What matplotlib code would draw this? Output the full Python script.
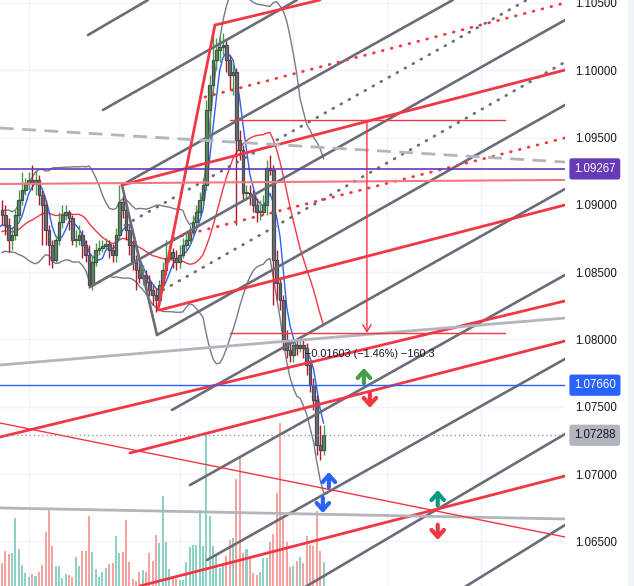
import numpy as np
import pandas as pd
import matplotlib
matplotlib.use("Agg")
import matplotlib.pyplot as plt
from matplotlib.patches import Rectangle

plt.rcParams['font.family'] = ['Liberation Sans', 'DejaVu Sans']

# precios previos (fuera de pantalla) para las medias y bandas
warmup_close = [1.0872, 1.0880, 1.0890, 1.0884, 1.0876, 1.0869, 1.0874, 1.0885, 1.0893, 1.0887,
                1.0878, 1.0870, 1.0866, 1.0873, 1.0881, 1.0889, 1.0884, 1.0877, 1.0883]

first_open = 1.08962
close = [1.08925, 1.08850, 1.08739, 1.08776, 1.08925, 1.09036, 1.09110, 1.09162, 1.09185, 1.09162,
         1.09185, 1.09073, 1.08999, 1.08813, 1.08702, 1.08590, 1.08739, 1.08873, 1.08925, 1.08947,
         1.08902, 1.08739, 1.08739, 1.08776, 1.08702, 1.08627, 1.08404, 1.08575, 1.08664, 1.08679,
         1.08694, 1.08709, 1.08664, 1.08627, 1.08776, 1.09021, 1.08962, 1.08813, 1.08702, 1.08575,
         1.08516, 1.08457, 1.08479, 1.08427, 1.08367, 1.08330, 1.08293, 1.08404, 1.08516, 1.08605,
         1.08650, 1.08605, 1.08575, 1.08627, 1.08702, 1.08739, 1.08798, 1.08873, 1.08947, 1.09036,
         1.09147, 1.09705, 1.09890, 1.10076, 1.10150, 1.10173, 1.10188, 1.10076, 1.09965, 1.09987,
         1.09482, 1.09408, 1.09088, 1.09088, 1.09073, 1.08999, 1.08947, 1.08947, 1.08999, 1.09274,
         1.09259, 1.08590, 1.08419, 1.08293, 1.07996, 1.07922, 1.07884, 1.07959, 1.07937, 1.07959,
         1.07937, 1.07810, 1.07661, 1.07550, 1.07216, 1.07178, 1.07288]
high = [1.09036, 1.08999, 1.08902, 1.08828, 1.08962, 1.09110, 1.09244, 1.09199, 1.09244, 1.09296,
        1.09259, 1.09222, 1.09110, 1.09036, 1.08850, 1.08739, 1.08776, 1.08947, 1.08999, 1.08999,
        1.08962, 1.08925, 1.08813, 1.08850, 1.08813, 1.08739, 1.08702, 1.08627, 1.08717, 1.08739,
        1.08739, 1.08754, 1.08739, 1.08709, 1.08828, 1.09147, 1.09073, 1.08999, 1.08850, 1.08739,
        1.08627, 1.08575, 1.08553, 1.08516, 1.08479, 1.08404, 1.08382, 1.08442, 1.08575, 1.08739,
        1.08702, 1.08679, 1.08664, 1.08702, 1.08754, 1.08798, 1.08850, 1.08925, 1.08999, 1.09095,
        1.09199, 1.09779, 1.09965, 1.10299, 1.10240, 1.10255, 1.10277, 1.10225, 1.10113, 1.10061,
        1.10017, 1.09556, 1.09445, 1.09147, 1.09147, 1.09110, 1.09051, 1.09036, 1.09073, 1.09333,
        1.09370, 1.09296, 1.08664, 1.08457, 1.08330, 1.08070, 1.07981, 1.07996, 1.07996, 1.08011,
        1.07996, 1.07974, 1.07847, 1.07714, 1.07587, 1.07364, 1.07364]
low = [1.08850, 1.08776, 1.08650, 1.08664, 1.08739, 1.08873, 1.08999, 1.09073, 1.09110, 1.09110,
       1.09073, 1.08999, 1.08702, 1.08702, 1.08553, 1.08531, 1.08575, 1.08702, 1.08828, 1.08887,
       1.08813, 1.08702, 1.08687, 1.08702, 1.08605, 1.08575, 1.08382, 1.08367, 1.08546, 1.08627,
       1.08650, 1.08664, 1.08605, 1.08575, 1.08575, 1.08739, 1.08902, 1.08739, 1.08627, 1.08516,
       1.08367, 1.08419, 1.08404, 1.08367, 1.08323, 1.08256, 1.08204, 1.08256, 1.08367, 1.08479,
       1.08575, 1.08531, 1.08516, 1.08531, 1.08605, 1.08664, 1.08702, 1.08769, 1.08843, 1.08917,
       1.08999, 1.09110, 1.09482, 1.09816, 1.10002, 1.10061, 1.10113, 1.09987, 1.09853, 1.09816,
       1.08850, 1.09333, 1.09036, 1.09036, 1.08999, 1.08947, 1.08873, 1.08887, 1.08925, 1.08925,
       1.09222, 1.08256, 1.08293, 1.08219, 1.07922, 1.07862, 1.07832, 1.07832, 1.07884, 1.07907,
       1.07862, 1.07736, 1.07609, 1.07476, 1.07141, 1.07104, 1.07141]
volume = [23, 35, 32, 33, 68, 37, 21, 13, 9, 12, 10, 14, 21, 54, 77, 40, 20, 20, 8, 12,
          11, 9, 29, 20, 35, 35, 70, 34, 17, 9, 14, 18, 22, 23, 50, 33, 34, 66, 24, 7,
          5, 14, 16, 14, 33, 25, 51, 43, 90, 44, 17, 9, 7, 6, 6, 24, 39, 41, 41, 76,
          40, 153, 70, 40, 30, 18, 23, 30, 46, 48, 107, 129, 33, 37, 30, 13, 11, 14, 28, 28,
          44, 52, 93, 163, 67, 44, 19, 20, 25, 29, 23, 50, 41, 40, 75, 35, 24]

price_ticks = [1.065, 1.070, 1.075, 1.080, 1.085, 1.090, 1.095, 1.100, 1.105]
grid_bars = [8, 53, 87, 115, 143]

# dibujos: (barra0, precio0, barra1, precio1)
gray_lines = [(25.67, 1.10262, 43.58, 1.10522), (30.15, 1.09705, 88.06, 1.10522),
              (35.82, 1.09147, 134.6, 1.10522), (26.27, 1.08390, 168.1, 1.10373),
              (46.27, 1.08033, 168.1, 1.09742), (50.75, 1.07476, 168.1, 1.09118),
              (56.12, 1.06918, 168.1, 1.08479), (61.19, 1.06361, 168.1, 1.07855),
              (88.96, 1.06138, 168.1, 1.07297), (136.7, 1.06138, 168.1, 1.06621),
              (35.82, 1.09147, 46.27, 1.08033)]
gray_dotted = [(36.72, 1.08850, 156.7, 1.10522), (48.06, 1.08367, 168.1, 1.10061)]
red_lines = [(46.57, 1.08219, 63.58, 1.10336), (63.58, 1.10336, 94.93, 1.10522),
             (35.82, 1.09147, 168.1, 1.10002), (47.16, 1.08219, 168.1, 1.08999),
             (-0.6, 1.07275, 168.1, 1.08286), (38.21, 1.07156, 168.1, 1.07988),
             (41.19, 1.06168, 168.1, 1.06985)]
red_dotted = [(60.60, 1.09801, 168.1, 1.10500), (51.04, 1.08754, 168.1, 1.09497)]
light_lines = [(-0.6, 1.07810, 168.1, 1.08159), (-0.6, 1.06748, 168.1, 1.06666)]
dashed_line = (-0.6, 1.09571, 168.1, 1.09318)
thin_red_line = (-0.6, 1.07379, 168.1, 1.06532)
pink_line = (-0.6, 1.09155, 168.1, 1.09185)
measure = (68.06, 150.15, 108.96, 1.09630, 1.08048)   # x0, x1, xv, precio arriba, precio abajo
measure_text = "\u22120.01603 (\u22121.46%) \u2212160.3"
# flechas: (barra, precio punta, dirección, color)
arrows = [(108.06, 1.07788, 1, '#43a047'), (109.85, 1.07491, -1, '#f23645'),
          (97.6, 1.07015, 1, '#2962ff'), (95.8, 1.06710, -1, '#2962ff'),
          (130.1, 1.06881, 1, '#089981'), (130.1, 1.06510, -1, '#f23645')]
price_labels = [(1.09267, '#673ab7', 'white'), (1.07660, '#2962ff', 'white'),
                (1.07288, '#b2b5be', '#131722')]


def main():
    n = len(close)
    x = np.arange(n)
    opens = np.array([first_open] + close[:-1])
    c = np.array(close)
    up = c >= opens

    full = pd.Series(warmup_close + close)
    fx = np.arange(-len(warmup_close), n)
    sma = full.rolling(20).mean()
    std = full.rolling(20).std(ddof=0)
    fast = full.rolling(5).mean()

    fig = plt.figure(figsize=(6.34, 5.86), dpi=100)
    fig.patches.append(Rectangle((628 / 634, 0), 6 / 634, 1, transform=fig.transFigure,
                                 facecolor='#f0f3fa', edgecolor='none'))
    ax = fig.add_axes([0, 0, 565 / 634, 1])
    ax.set_xlim(-0.6, 168.1)
    ax.set_ylim(1.06168, 1.10522)

    # rejilla
    for t in price_ticks:
        ax.axhline(t, color='#f0f3fa', lw=1, zorder=0)
    for g in grid_bars:
        ax.axvline(g, color='#f0f3fa', lw=1, zorder=0)

    # volumen
    vol_top = max(volume) * 3.6
    vcol = np.where(up, '#8fd1c7', '#f5a3a1')
    ax.bar(x, np.array(volume) / vol_top, width=0.6, bottom=0, color=vcol,
           transform=ax.get_xaxis_transform(), zorder=1)

    # indicadores
    ax.plot(fx, sma + 2 * std, color='#787b86', lw=1, zorder=2)
    ax.plot(fx, sma - 2 * std, color='#787b86', lw=1, zorder=2)
    ax.plot(fx, sma, color='#f23645', lw=1, zorder=2)
    ax.plot(fx, fast, color='#2962ff', lw=1, zorder=2)

    # velas
    wick = np.where(up, '#43a047', '#b2182b')
    ax.vlines(x, low, high, colors=wick, lw=1, zorder=3)
    body_lo = np.minimum(opens, c)
    body_h = np.maximum(np.abs(c - opens), 0.00006)
    face = np.where(up, '#4f9a52', '#6d6f76')
    ax.bar(x, body_h, width=0.8, bottom=body_lo, color=face, edgecolor='#4a4c52',
           linewidth=0.9, zorder=3)

    # dibujos
    for b0, p0, b1, p1 in gray_lines:
        ax.plot([b0, b1], [p0, p1], color='#6a6d78', lw=1.9, solid_capstyle='round', zorder=4)
    for b0, p0, b1, p1 in gray_dotted:
        ax.plot([b0, b1], [p0, p1], color='#6a6d78', lw=2, ls=(0, (0.3, 3.0)),
                dash_capstyle='round', zorder=4)
    for b0, p0, b1, p1 in red_lines:
        ax.plot([b0, b1], [p0, p1], color='#f23645', lw=2, solid_capstyle='round', zorder=4)
    for b0, p0, b1, p1 in red_dotted:
        ax.plot([b0, b1], [p0, p1], color='#f23645', lw=2, ls=(0, (0.3, 3.0)),
                dash_capstyle='round', zorder=4)
    for b0, p0, b1, p1 in light_lines:
        ax.plot([b0, b1], [p0, p1], color='#b2b5be', lw=2, zorder=4)
    b0, p0, b1, p1 = dashed_line
    ax.plot([b0, b1], [p0, p1], color='#b2b5be', lw=2, ls=(0, (5, 3)), zorder=4)
    b0, p0, b1, p1 = thin_red_line
    ax.plot([b0, b1], [p0, p1], color='#f23645', lw=1, zorder=4)
    b0, p0, b1, p1 = pink_line
    ax.plot([b0, b1], [p0, p1], color='#f4777f', lw=1.5, zorder=4)

    mx0, mx1, mxv, mtop, mbot = measure
    ax.plot([mx0, mx1], [mtop, mtop], color='#f23645', lw=1, zorder=4)
    ax.plot([mx0, mx1], [mbot, mbot], color='#f23645', lw=1, zorder=4)
    ax.annotate('', xy=(mxv, mbot), xytext=(mxv, mtop),
                arrowprops=dict(arrowstyle='->,head_length=0.5,head_width=0.3',
                                color='#f23645', lw=1, shrinkA=0, shrinkB=0), zorder=4)
    ax.text(90.5, 1.07892, measure_text, fontsize=7.8, color='#131722', va='center',
            ha='left', zorder=5)

    # líneas de precio
    ax.axhline(1.09267, color='#673ab7', lw=1.2, zorder=4)
    ax.axhline(1.07660, color='#2962ff', lw=1, zorder=4)
    ax.axhline(close[-1], color='#9598a1', lw=1, ls=(0, (1, 2)), zorder=4)

    for b, p, d, col in arrows:
        ax.annotate('', xy=(b, p), xytext=(0, -11 * d), textcoords='offset points',
                    xycoords='data',
                    arrowprops=dict(arrowstyle='->,head_length=0.5,head_width=0.45',
                                    color=col, lw=3, shrinkA=0, shrinkB=0), zorder=6)

    # eje de precios
    ax.yaxis.tick_right()
    ax.set_yticks(price_ticks)
    ax.set_yticklabels([f"{t:.5f}" for t in price_ticks])
    ax.tick_params(axis='y', length=0, pad=7, labelsize=8.3, labelcolor='#131722')
    ax.set_xticks([])
    for s in ax.spines.values():
        s.set_visible(False)

    for p, bg, fg in price_labels:
        ax.text(1 + 9 / 565, p, f"{p:.5f}", transform=ax.get_yaxis_transform(),
                va='center', ha='left', fontsize=8.3, color=fg, zorder=7, clip_on=False,
                bbox=dict(boxstyle='round,pad=0.4,rounding_size=0.2', fc=bg, ec='none'))

    fig.savefig("out.png", dpi=100)
    plt.close(fig)


if __name__ == "__main__":
    main()
